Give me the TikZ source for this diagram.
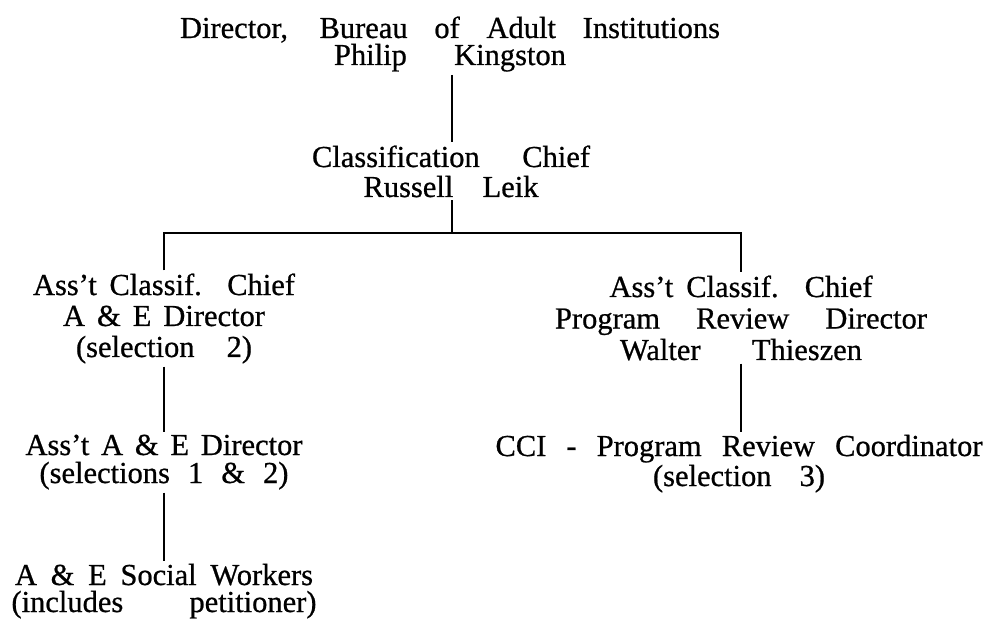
\documentclass[tikz,border=0pt]{standalone}
\usepackage{fontspec}
\setmainfont[FakeBold=0.7]{Liberation Serif}
\usepackage{tikz}
\usetikzlibrary{positioning}
% one printed line, spaced out to the width it has in the chart
\newcommand{\wideline}[2]{\makebox[#1pt][s]{#2}}
\tikzset{
  office/.style={font=\fontsize{30.5}{#1}\selectfont, align=center, inner sep=3pt, anchor=base},
  office/.default=29,
  rule/.style={line width=2.8pt}
}

\begin{document}
\begin{tikzpicture}[x=1pt, y=-1pt]
\useasboundingbox (0,0) rectangle (994,620);
\node[office=27] (dir) at (450,65) {\wideline{540}{Director, Bureau of Adult Institutions}\\\wideline{232}{Philip Kingston}};
\node[office=30] (chief) at (451,197) {\wideline{278}{Classification Chief}\\\wideline{175}{Russell Leik}};
\node[office=31] (asstL) at (164,357) {\wideline{262}{Ass't Classif. Chief}\\\wideline{202}{A \& E Director}\\\wideline{176}{(selection 2)}};
\node[office=28] (aeasst) at (164,483) {\wideline{277}{Ass't A \& E Director}\\\wideline{249}{(selections 1 \& 2)}};
\node[office=27] (workers) at (164,612) {\wideline{298}{A \& E Social Workers}\\\wideline{305}{(includes petitioner)}};
\node[office=31.5] (asstR) at (741,360) {\wideline{263}{Ass't Classif. Chief}\\\wideline{372}{Program Review Director}\\\wideline{242}{Walter Thieszen}};
\node[office=30] (cci) at (739,486) {\wideline{487}{CCI - Program Review Coordinator}\\\wideline{172}{(selection 3)}};
\coordinate (split) at (452,233);
% connectors
\draw[rule] (dir.south -| split) -- (chief.north -| split);
\draw[rule] (chief.south -| split) -- (split);
\draw[rule] (asstL.north) -- (asstL.north |- split) -- (asstR.north |- split) -- (asstR.north);
\draw[rule] (asstL.south) -- (asstL.south |- aeasst.north);
\draw[rule] (aeasst.south) -- (aeasst.south |- workers.north);
\draw[rule] (asstR.south) -- (asstR.south |- cci.north);
\end{tikzpicture}
\end{document}
